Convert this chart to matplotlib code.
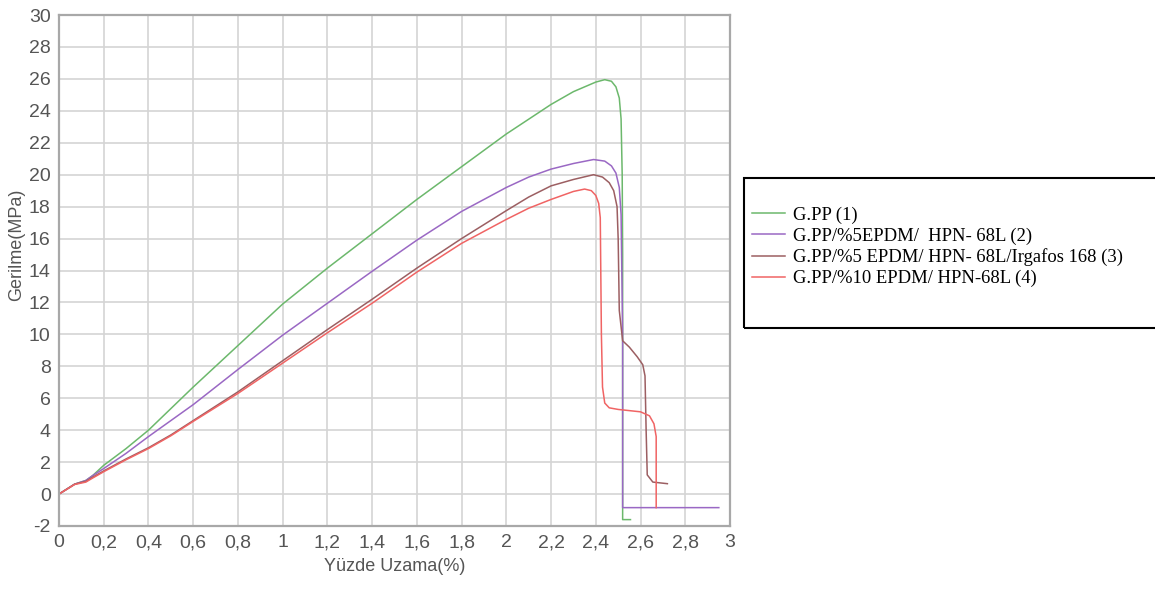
import matplotlib
matplotlib.use("Agg")
import matplotlib.pyplot as plt
from matplotlib.patches import Rectangle

# Yüzde uzama (%) / gerilme (MPa) values
gpp_x = [0, 0.07, 0.12, 0.15, 0.2, 0.3, 0.4, 0.5, 0.6, 0.8, 1.0, 1.2, 1.4, 1.6, 1.8,
         2.0, 2.2, 2.3, 2.4, 2.44, 2.47, 2.49, 2.505, 2.513, 2.518, 2.52, 2.52, 2.555]
gpp_y = [0, 0.62, 0.85, 1.15, 1.8, 2.85, 4.0, 5.35, 6.7, 9.3, 11.9, 14.15, 16.3, 18.45, 20.5,
         22.55, 24.4, 25.2, 25.8, 25.95, 25.85, 25.5, 24.8, 23.5, 20.0, 15.0, -1.6, -1.6]

epdm5_x = [0, 0.07, 0.12, 0.15, 0.2, 0.3, 0.4, 0.5, 0.6, 0.8, 1.0, 1.2, 1.4, 1.6, 1.8,
           2.0, 2.1, 2.2, 2.3, 2.39, 2.44, 2.47, 2.49, 2.505, 2.513, 2.52, 2.52, 2.95]
epdm5_y = [0, 0.62, 0.85, 1.15, 1.6, 2.55, 3.6, 4.6, 5.6, 7.8, 9.95, 11.95, 13.95, 15.9, 17.7,
           19.2, 19.85, 20.35, 20.7, 20.95, 20.85, 20.55, 20.1, 19.2, 17.5, 10.0, -0.85, -0.85]

irgafos_x = [0, 0.07, 0.12, 0.15, 0.2, 0.3, 0.4, 0.5, 0.6, 0.8, 1.0, 1.2, 1.4, 1.6, 1.8,
             2.0, 2.1, 2.2, 2.3, 2.39, 2.43, 2.46, 2.48, 2.495, 2.5, 2.505, 2.52, 2.55, 2.585,
             2.61, 2.62, 2.625, 2.63, 2.655, 2.72]
irgafos_y = [0, 0.62, 0.8, 1.05, 1.45, 2.2, 2.9, 3.7, 4.6, 6.4, 8.35, 10.3, 12.2, 14.15, 16.0,
             17.75, 18.6, 19.3, 19.7, 20.0, 19.85, 19.5, 19.0, 18.0, 16.0, 11.5, 9.6, 9.2, 8.6,
             8.1, 7.4, 4.0, 1.2, 0.75, 0.65]

epdm10_x = [0, 0.07, 0.12, 0.15, 0.2, 0.3, 0.4, 0.5, 0.6, 0.8, 1.0, 1.2, 1.4, 1.6, 1.8,
            2.0, 2.1, 2.2, 2.3, 2.35, 2.38, 2.4, 2.413, 2.42, 2.425, 2.43, 2.44, 2.46, 2.5,
            2.6, 2.64, 2.66, 2.67, 2.67]
epdm10_y = [0, 0.6, 0.75, 1.0, 1.4, 2.15, 2.85, 3.65, 4.55, 6.3, 8.2, 10.1, 11.95, 13.9, 15.7,
            17.2, 17.9, 18.45, 18.95, 19.1, 19.0, 18.7, 18.2, 17.3, 10.0, 6.7, 5.7, 5.4, 5.3,
            5.15, 4.9, 4.4, 3.6, -0.85]

labels = ["G.PP (1)",
          "G.PP/%5EPDM/  HPN- 68L (2)",
          "G.PP/%5 EPDM/ HPN- 68L/Irgafos 168 (3)",
          "G.PP/%10 EPDM/ HPN-68L (4)"]
colors = ["#6cb86c", "#9a68c4", "#9c5f62", "#f06464"]

x_ticks = [0, 0.2, 0.4, 0.6, 0.8, 1, 1.2, 1.4, 1.6, 1.8, 2, 2.2, 2.4, 2.6, 2.8, 3]
x_tick_labels = ["0", "0,2", "0,4", "0,6", "0,8", "1", "1,2", "1,4", "1,6", "1,8",
                 "2", "2,2", "2,4", "2,6", "2,8", "3"]
y_ticks = list(range(-2, 31, 2))

plt.rcParams["axes.unicode_minus"] = False
sans = ["Liberation Sans Narrow", "Liberation Sans", "DejaVu Sans"]

fig = plt.figure(figsize=(11.55, 5.9), dpi=100)
ax = fig.add_axes([59 / 1155, 1 - 526 / 590, (730 - 59) / 1155, (526 - 15) / 590])

series = [(gpp_x, gpp_y), (epdm5_x, epdm5_y), (irgafos_x, irgafos_y), (epdm10_x, epdm10_y)]
handles = []
for (xs, ys), lab, col in zip(series, labels, colors):
    h, = ax.plot(xs, ys, color=col, lw=1.1, label=lab)
    handles.append(h)

ax.set_xlim(0, 3)
ax.set_ylim(-2, 30)
ax.set_xticks(x_ticks)
ax.set_xticklabels(x_tick_labels)
ax.set_yticks(y_ticks)
ax.grid(True, color="#d4d4d4", lw=1.2)
ax.set_axisbelow(True)
ax.tick_params(length=0, pad=6, labelsize=14, labelcolor="#555555")
for t in ax.get_xticklabels() + ax.get_yticklabels():
    t.set_family(sans)
for s in ax.spines.values():
    s.set_color("#a8a8a8")
    s.set_linewidth(1.6)

ax.set_xlabel("Yüzde Uzama(%)", family=sans, fontsize=13, color="#555555", labelpad=5)
ax.set_ylabel("Gerilme(MPa)", family=sans, fontsize=13, color="#555555")
ax.yaxis.set_label_coords(-0.05, 0.55)

# legend box, which runs off the right edge in the reference
fig.patches.append(Rectangle((744 / 1155, 1 - 328 / 590), 420 / 1155, 150 / 590,
                             transform=fig.transFigure, fill=False, edgecolor="black",
                             lw=1.5))
fig.legend(handles=handles, loc="upper left", bbox_to_anchor=(745 / 1155, 1 - 199 / 590),
           frameon=False, prop={"family": "Liberation Serif", "size": 13.4},
           handlelength=1.75, handletextpad=0.45, labelspacing=0.2, borderaxespad=0)

fig.savefig("out.png", dpi=100)
